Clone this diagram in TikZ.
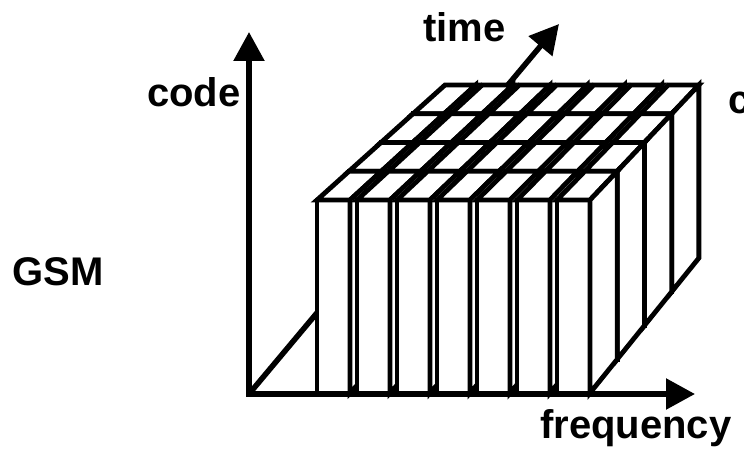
\documentclass[tikz,border=0pt]{standalone}
\usepackage{fontspec}
\setmainfont{Liberation Sans}
\usetikzlibrary{arrows.meta}

% point of the block: offset along frequency, depth in time, height in code
\newcommand\blockpt[3]{({(1-#2)*(317+#1)+#2*(445+0.93*#1)},{(1-#2)*(393-193*#3)+#2*(258-173*#3)})}

\begin{document}
\begin{tikzpicture}[
    x=1pt, y=-1pt,
    slab/.style={draw=black, fill=white, line width=4.8pt, line join=miter},
    axis/.style={draw=black, line width=5.5pt, line join=miter},
    tip/.style={-{Triangle[length=29pt,width=30pt]}},
    label/.style={font=\bfseries\fontsize{40}{48}\selectfont, inner sep=0pt,
        anchor=base west}
]
\useasboundingbox (0,0) rectangle (744,449);

\coordinate (Origin) at (249,394);
\coordinate (CodeTip) at (249,32);
\coordinate (FreqTip) at (695,394);
\coordinate (TimeTip) at (559,24);

% time axis runs behind the block
\draw[axis,tip] (Origin) -- (TimeTip);

% 7 frequency slots, 4 time slots each, drawn back to front
\foreach \i in {0,...,6} {
  \foreach \j in {3,2,1,0} {
    \pgfmathsetmacro\ua{40*\i}
    \pgfmathsetmacro\ub{40*\i+33}
    \pgfmathsetmacro\ta{0.25*\j}
    \pgfmathsetmacro\tb{0.25*\j+0.25}
    \draw[slab] \blockpt{\ua}{\ta}{0} -- \blockpt{\ub}{\ta}{0}
      -- \blockpt{\ub}{\ta}{1} -- \blockpt{\ua}{\ta}{1} -- cycle;
    \draw[slab] \blockpt{\ua}{\ta}{1} -- \blockpt{\ub}{\ta}{1}
      -- \blockpt{\ub}{\tb}{1} -- \blockpt{\ua}{\tb}{1} -- cycle;
    \draw[slab] \blockpt{\ub}{\ta}{0} -- \blockpt{\ub}{\tb}{0}
      -- \blockpt{\ub}{\tb}{1} -- \blockpt{\ub}{\ta}{1} -- cycle;
  }
}

% code and frequency axes
\draw[axis,{Triangle[length=29pt,width=30pt]}-{Triangle[length=29pt,width=30pt]}]
  (CodeTip) -- (Origin) -- (FreqTip);

\node[label] (CodeLabel) at (147,107) {code};
\node[label] (GsmLabel) at (12,285) {GSM};
\node[label] (TimeLabel) at (423,42) {time};
\node[label] (FreqLabel) at (540,438) {frequency};
\node[label] (CutLabel) at (728,114) {c};

\end{tikzpicture}
\end{document}
